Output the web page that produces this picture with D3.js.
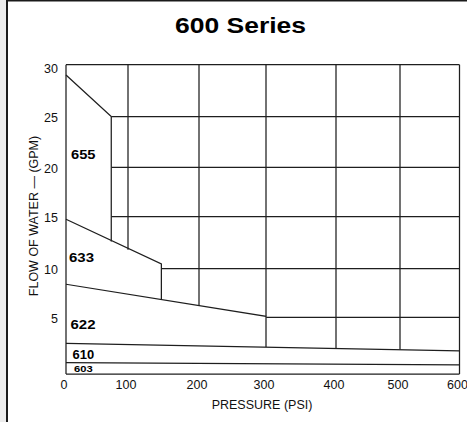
<!DOCTYPE html>
<html>
<head>
<meta charset="utf-8">
<script src="https://cdn.jsdelivr.net/npm/d3@7"></script>
<style>
  html, body { margin: 0; padding: 0; background: #ececec; overflow: hidden; }
  svg { display: block; }
</style>
</head>
<body>
<svg id="chart" width="467" height="422"></svg>
<script>
// ---- data ----
const title = "600 Series";
const pressureTicks = [0, 100, 200, 300, 400, 500, 600];
const flowTicks = [5, 10, 15, 20, 25, 30];
const models = ["655", "633", "622", "610", "603"];
const flowAtZero = [29, 14.75, 8.4, 2.7, 1.0];        // GPM at 0 PSI
const limitPressure = [73, 147, 300, 600, 600];        // max PSI for model
const flowAtLimit = [25, 10.45, 5.1, 2.05, 0.8];       // GPM at max PSI
const xTitle = "PRESSURE (PSI)";
const yTitle = "FLOW OF WATER — (GPM)";

// ---- drawing ----
const svg = d3.select("#chart");
svg.append("rect").attr("x", 7).attr("y", 0.5).attr("width", 480).attr("height", 440)
  .attr("fill", "#fff").attr("stroke", "#1a1a1a").attr("stroke-width", 2);

const x = d3.scaleLinear().domain(pressureTicks).range([66, 128, 199, 266, 336, 400, 459.5]);
const y = d3.scaleLinear().domain([0].concat(flowTicks)).range([374, 317.3, 268.7, 216.7, 167.3, 116.5, 64.7]);

const LC = "#1e1e1e", LW = 1.25;
const line = (pts) => svg.append("path")
  .attr("d", d3.line().x(d => x(d[0])).y(d => y(d[1]))(pts))
  .attr("fill", "none").attr("stroke", LC).attr("stroke-width", LW);

const f = (i, p) => flowAtZero[i] + (flowAtLimit[i] - flowAtZero[i]) * p / limitPressure[i];
const envelope = (p) => {
  let m = 0;
  models.forEach((_, i) => { if (limitPressure[i] >= p - 1e-9) m = Math.max(m, f(i, p)); });
  return m;
};
const pMax = d3.max(pressureTicks), fMax = d3.max(flowTicks);

// frame (left, bottom, top, right)
line([[0, 0], [0, fMax]]);
line([[0, 0], [pMax, 0]]);
line([[0, fMax], [pMax, fMax]]);
line([[pMax, 0], [pMax, fMax]]);

// vertical gridlines above envelope
pressureTicks.filter(p => p > 0 && p < pMax).forEach(p => line([[p, fMax], [p, envelope(p)]]));

// horizontal gridlines right of envelope
flowTicks.filter(v => v < fMax).forEach(v => {
  let start = pMax;
  for (let p = 0; p <= pMax; p += 0.25) { if (envelope(p) <= v + 1e-6) { start = p; break; } }
  line([[start, v], [pMax, v]]);
});

// model curves
models.forEach((m, i) => {
  const L = limitPressure[i];
  const pts = [[0, flowAtZero[i]], [L, flowAtLimit[i]]];
  if (L < pMax) {
    let below = 0;
    models.forEach((_, j) => { if (limitPressure[j] > L) below = Math.max(below, f(j, L)); });
    pts.push([L, below]);
  }
  line(pts);
});

// model labels
const labelFlow = { "655": 21.3, "633": 11.1, "622": 4.4, "610": 1.76, "603": 0.47 };
const labelDx = { "655": 5, "633": 3, "622": 4.5, "610": 6.5, "603": 8 };
const labelW = { "655": 24.5, "633": 25, "622": 25, "610": 21.6, "603": 18.7 };
models.forEach(m => {
  svg.append("text").text(m)
    .attr("x", x(0) + labelDx[m]).attr("y", y(labelFlow[m])).attr("dy", "0.36em")
    .attr("font-family", "Liberation Sans, Arial").attr("font-weight", "bold")
    .attr("font-size", m === "603" ? 9.5 : 12.5).attr("fill", "#000")
    .attr("textLength", labelW[m]).attr("lengthAdjust", "spacingAndGlyphs");
});

// tick labels
pressureTicks.forEach(p => {
  svg.append("text").text(p).attr("x", x(p) - 2).attr("y", 385).attr("dy", "0.35em")
    .attr("text-anchor", "middle").attr("font-family", "Liberation Sans, Arial")
    .attr("font-size", 12.5).attr("fill", "#111");
});
flowTicks.forEach(v => {
  svg.append("text").text(v).attr("x", 58).attr("y", y(v) + (v === 30 ? 4 : 1)).attr("dy", "0.35em")
    .attr("text-anchor", "end").attr("font-family", "Liberation Sans, Arial")
    .attr("font-size", 12.5).attr("fill", "#111");
});

// titles
svg.append("text").text(title).attr("x", 175).attr("y", 32.7)
  .attr("font-family", "Liberation Sans, Arial").attr("font-weight", "bold")
  .attr("font-size", 21.5).attr("fill", "#000")
  .attr("textLength", 131).attr("lengthAdjust", "spacingAndGlyphs");
svg.append("text").text(xTitle).attr("x", 262).attr("y", 405).attr("dy", "0.35em")
  .attr("text-anchor", "middle").attr("font-family", "Liberation Sans, Arial")
  .attr("font-size", 12.5).attr("fill", "#111");
svg.append("text").text(yTitle)
  .attr("transform", "translate(38,216) rotate(-90)")
  .attr("text-anchor", "middle").attr("font-family", "Liberation Sans, Arial")
  .attr("font-size", 12.5).attr("fill", "#111");
</script>
</body>
</html>
